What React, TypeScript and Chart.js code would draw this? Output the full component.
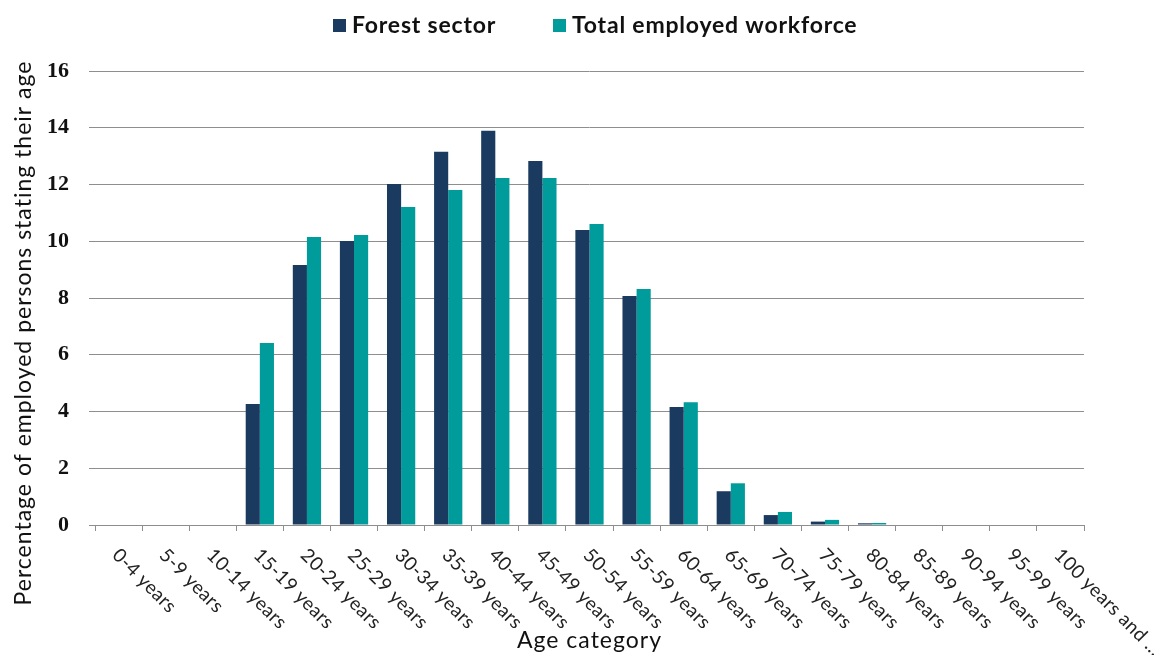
import React, { useEffect, useRef } from 'react';
import { Chart, registerables } from 'chart.js';

Chart.register(...registerables);

const categories: string[] = [
  '0-4 years', '5-9 years', '10-14 years', '15-19 years', '20-24 years',
  '25-29 years', '30-34 years', '35-39 years', '40-44 years', '45-49 years',
  '50-54 years', '55-59 years', '60-64 years', '65-69 years', '70-74 years',
  '75-79 years', '80-84 years', '85-89 years', '90-94 years', '95-99 years',
  '100 years and ...',
];

const forestSector: number[] = [
  0, 0, 0, 4.26, 9.16, 10.01, 12.02, 13.15, 13.89, 12.83, 10.4, 8.07, 4.16,
  1.19, 0.35, 0.12, 0.06, 0, 0, 0, 0,
];

const totalWorkforce: number[] = [
  0, 0, 0, 6.41, 10.15, 10.22, 11.21, 11.81, 12.23, 12.23, 10.61, 8.32, 4.33,
  1.47, 0.46, 0.18, 0.07, 0, 0, 0, 0,
];

const seriesNames: string[] = ['Forest sector', 'Total employed workforce'];
const yTickValues: number[] = [0, 2, 4, 6, 8, 10, 12, 14, 16];
const xTitle = 'Age category';
const yTitle = 'Percentage of employed persons stating their age';

const FOREST_COLOR = '#1b3a60';
const TOTAL_COLOR = '#009b9b';
const GRID_COLOR = '#8e8e8e';
const SANS = 'Lato, "Open Sans", sans-serif';

const textPlugin = {
  id: 'customTexts',
  afterDraw(chart: any) {
    const ctx = chart.ctx;
    const xs = chart.scales.x;
    const area = chart.chartArea;

    // rotated category labels
    ctx.save();
    ctx.fillStyle = '#222';
    ctx.font = `19px ${SANS}`;
    (ctx as any).letterSpacing = '0.4px';
    ctx.textAlign = 'left';
    ctx.textBaseline = 'middle';
    categories.forEach((label, i) => {
      const x = xs.getPixelForValue(i);
      ctx.save();
      ctx.translate(x - 3, xs.top + 27);
      ctx.rotate(Math.PI / 4);
      ctx.fillText(label, 0, 0);
      ctx.restore();
    });
    ctx.restore();

    // axis titles
    ctx.save();
    ctx.fillStyle = '#111';
    ctx.font = `23px ${SANS}`;
    (ctx as any).letterSpacing = '1px';
    ctx.textAlign = 'center';
    ctx.textBaseline = 'middle';
    ctx.fillText(xTitle, (area.left + area.right) / 2, 641);
    ctx.save();
    ctx.translate(24, 333);
    ctx.rotate(-Math.PI / 2);
    ctx.fillText(yTitle, 0, 0);
    ctx.restore();
    ctx.restore();

    // legend
    ctx.save();
    ctx.font = `bold 23px ${SANS}`;
    (ctx as any).letterSpacing = '0.8px';
    ctx.textBaseline = 'middle';
    ctx.textAlign = 'left';
    const starts = [333, 553];
    chart.data.datasets.forEach((ds: any, i: number) => {
      const x = starts[i];
      ctx.fillStyle = ds.backgroundColor;
      ctx.fillRect(x, 19, 13, 13);
      ctx.fillStyle = '#111';
      ctx.fillText(ds.label, x + 19, 26);
    });
    ctx.restore();
  },
};

export default function App() {
  const canvasRef = useRef<HTMLCanvasElement | null>(null);

  useEffect(() => {
    if (!canvasRef.current) return;
    const chart = new Chart(canvasRef.current, {
      type: 'bar',
      data: {
        labels: categories,
        datasets: [
          {
            label: seriesNames[0],
            data: forestSector,
            backgroundColor: FOREST_COLOR,
            categoryPercentage: 0.6,
            barPercentage: 1.0,
          },
          {
            label: seriesNames[1],
            data: totalWorkforce,
            backgroundColor: TOTAL_COLOR,
            categoryPercentage: 0.6,
            barPercentage: 1.0,
          },
        ],
      },
      options: {
        responsive: false,
        animation: false,
        devicePixelRatio: 1,
        layout: { padding: { left: 0, right: 73, top: 71, bottom: 0 } },
        plugins: {
          legend: { display: false },
          tooltip: { enabled: false },
        },
        scales: {
          x: {
            offset: true,
            grid: {
              offset: true,
              drawOnChartArea: false,
              drawTicks: true,
              tickLength: 6,
              color: GRID_COLOR,
              lineWidth: 1,
            },
            border: { display: true, color: GRID_COLOR, width: 1 },
            ticks: { display: false },
            afterFit(scale: any) {
              scale.height = 130;
            },
          },
          y: {
            min: 0,
            max: 16,
            afterBuildTicks(scale: any) {
              scale.ticks = yTickValues.map((v) => ({ value: v }));
            },
            grid: {
              color: GRID_COLOR,
              lineWidth: 1,
              drawTicks: true,
              tickLength: 6,
            },
            border: { display: false },
            ticks: {
              font: { family: '"Liberation Serif", serif', size: 22, weight: 'bold' },
              color: '#111',
              padding: 20,
            },
            afterFit(scale: any) {
              scale.width = 95;
            },
          },
        },
      },
      plugins: [textPlugin],
    });
    return () => chart.destroy();
  }, []);

  return (
    <div style={{ position: 'fixed', left: 0, top: 0, width: 1157, height: 655, background: '#fff' }}>
      <canvas ref={canvasRef} width={1157} height={655} />
    </div>
  );
}
